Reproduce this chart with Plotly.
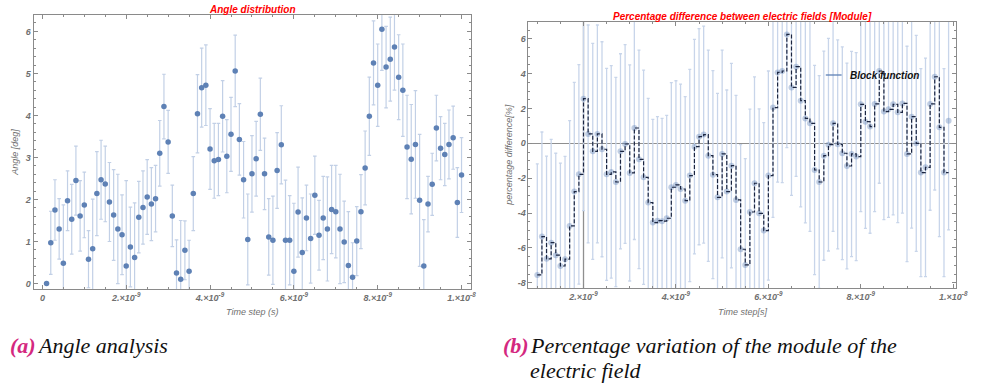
import plotly.graph_objects as go

# ---------------- data ----------------
# Left panel: angle distribution, time step index i -> t = i*1e-10 s
angle_steps = list(range(1, 101))
angle_deg = [0.00, 0.97, 1.75, 1.30, 0.48, 1.97, 1.53, 2.45, 1.61, 1.87,
             0.58, 0.83, 2.14, 2.47, 2.37, 1.94, 1.63, 1.30, 1.16, 0.42,
             0.87, 0.62, 1.58, 1.81, 2.06, 1.89, 2.02, 3.10, 4.21, 3.37,
             1.61, 0.25, 0.10, 0.79, 0.29, 2.14, 4.04, 4.66, 4.72, 3.20,
             2.92, 2.95, 3.98, 3.03, 3.55, 5.06, 3.43, 2.47, 1.05, 2.61,
             2.97, 4.03, 2.61, 1.11, 1.03, 2.69, 3.30, 1.03, 1.03, 0.29,
             1.70, 0.74, 1.56, 1.07, 2.10, 1.15, 1.56, 1.30, 1.76, 1.71,
             1.30, 0.99, 0.43, 0.15, 1.01, 1.71, 2.75, 3.98, 5.25, 4.72,
             6.05, 5.15, 5.34, 5.63, 4.91, 4.60, 3.25, 2.96, 3.31, 1.98,
             0.42, 1.89, 2.36, 3.70, 3.22, 3.07, 3.31, 3.47, 1.93, 2.58]
angle_err = [0.00, 0.75, 0.72, 0.72, 1.39, 0.71, 0.83, 0.82, 0.84, 0.78,
             0.68, 1.18, 1.00, 0.94, 0.90, 0.94, 1.08, 1.30, 0.95, 2.03,
             0.95, 1.30, 0.85, 0.87, 0.89, 0.87, 0.79, 0.78, 0.77, 0.75,
             0.73, 0.79, 1.40, 0.70, 0.74, 0.88, 0.93, 0.94, 0.96, 0.96,
             0.89, 0.86, 0.85, 0.87, 0.88, 0.85, 0.85, 0.91, 1.08, 0.91,
             0.89, 0.86, 0.85, 0.91, 1.05, 0.90, 0.93, 1.43, 1.06, 1.62,
             1.07, 1.30, 0.78, 1.06, 0.93, 0.83, 0.99, 1.24, 1.05, 1.10,
             1.30, 0.97, 1.28, 0.82, 0.82, 0.88, 0.88, 0.93, 1.00, 0.98,
             0.98, 0.97, 1.00, 1.03, 1.01, 1.10, 1.23, 1.30, 1.28, 1.57,
             1.10, 0.66, 0.74, 0.78, 0.75, 0.74, 0.82, 0.75, 0.83, 0.89]

# Right panel: percentage difference of field module, steps 10..99
pct_steps = list(range(10, 100))
pct_diff = [-7.55, -5.35, -6.63, -5.70, -6.42, -7.04, -6.65, -4.74, -2.77, -1.78,
            2.56, 0.54, -0.46, 0.54, -0.34, -1.78, -1.64, -2.22, -0.46, -0.04,
            -1.70, 0.88, -0.92, -1.95, -3.40, -4.55, -4.44, -4.47, -4.30, -2.52,
            -2.39, -2.62, -3.29, -1.85, -0.19, 0.38, 0.50, -0.71, -1.80, -3.10,
            -0.61, -2.77, -1.28, -3.25, -6.08, -6.98, -3.94, -2.29, -4.02, -5.01,
            -1.85, 2.05, 4.07, 4.15, 6.25, 3.21, 4.40, 2.45, 1.43, 1.15,
            -1.53, -2.22, -0.71, -0.08, 1.15, -0.06, -0.57, -1.30, -0.61, -0.76,
            2.24, 1.24, 0.96, 2.26, 4.15, 1.82, 1.95, 2.24, 1.78, 2.29,
            -0.61, 1.53, 0.00, -1.68, -1.38, 2.26, 3.82, 0.92, -1.68, 1.30]
pct_err = [6.37, 6.00, 5.90, 5.93, 5.85, 5.90, 5.90, 6.04, 6.27, 6.30,
           6.42, 6.25, 6.20, 6.25, 6.17, 6.08, 6.10, 6.00, 5.60, 5.70,
           6.20, 6.40, 6.27, 6.15, 5.98, 5.93, 5.97, 5.90, 5.90, 6.00,
           5.98, 6.02, 5.97, 6.09, 6.16, 6.20, 6.23, 6.06, 5.97, 5.97,
           5.96, 5.83, 5.87, 6.00, 6.00, 6.10, 5.90, 6.10, 6.00, 6.20,
           6.00, 6.30, 6.30, 6.40, 6.50, 6.20, 6.30, 6.10, 6.00, 6.20,
           6.00, 6.10, 6.00, 6.10, 6.20, 6.00, 6.10, 5.90, 5.89, 5.97,
           6.16, 6.12, 6.12, 6.18, 6.44, 6.20, 6.20, 6.35, 6.33, 6.30,
           6.18, 6.40, 6.20, 5.97, 6.27, 6.10, 6.50, 6.27, 5.97, 6.27]

STEP_SIZE = 1e-10
x_tick_vals = [0, 2e-9, 4e-9, 6e-9, 8e-9, 1e-8]
x_tick_text = ["0", "2.×10<sup>-9</sup>", "4.×10<sup>-9</sup>", "6.×10<sup>-9</sup>",
               "8.×10<sup>-9</sup>", "1.×10<sup>-8</sup>"]
y_tick_vals_left = [0, 1, 2, 3, 4, 5, 6]
y_tick_text_left = ["0", "1", "2", "3", "4", "5", "6"]
y_tick_vals_right = [-8, -6, -4, -2, 0, 2, 4, 6]
y_tick_text_right = ["-8", "-6", "-4", "-2", "0", "2", "4", "6"]
RIGHT_AXIS_ORIGIN_X = 2e-9

# ---------------- derived ----------------
t_left = [i * STEP_SIZE for i in angle_steps]
t_right = [j * STEP_SIZE for j in pct_steps]
# step ("block") function: each value held until the next time step
step_x = t_right
step_y = pct_diff[:-1] + [pct_diff[-2]]

W, H = 983, 387
BLUE = "#5e81b5"
FRAME = "#8a8a8a"
TICKFONT = dict(family="Liberation Sans, Arial, sans-serif", size=9, color="#707070",
                style="italic", weight="bold")

fig = go.Figure()

fig.add_trace(go.Scatter(
    x=t_left, y=angle_deg, mode="markers", xaxis="x", yaxis="y",
    marker=dict(color=BLUE, size=5.5),
    error_y=dict(type="data", array=angle_err, visible=True,
                 color="#c2d0e6", thickness=1.2, width=1.8),
    showlegend=False))

fig.add_trace(go.Scatter(
    x=t_right, y=pct_diff, mode="markers", xaxis="x2", yaxis="y2",
    marker=dict(color="rgba(94,129,181,0.38)", size=6),
    error_y=dict(type="data", array=pct_err, visible=True,
                 color="#c8d5ea", thickness=1.3, width=1.5),
    showlegend=False))

fig.add_trace(go.Scatter(
    x=step_x, y=step_y, mode="lines", xaxis="x2", yaxis="y2",
    line=dict(color="#1b2540", width=1.2, dash="4px,2px", shape="hv"),
    showlegend=False))

def px_x(p):
    return p / W

def px_y(p):
    return 1 - p / H

common_axis = dict(showline=True, mirror="allticks", linecolor=FRAME, linewidth=1,
                   ticks="inside", tickcolor=FRAME, ticklen=4, tickwidth=1,
                   showgrid=False, zeroline=False, tickfont=TICKFONT)

fig.update_layout(
    width=W, height=H, margin=dict(l=0, r=0, t=0, b=0),
    paper_bgcolor="white", plot_bgcolor="white",
    xaxis=dict(domain=[px_x(34), px_x(477)], range=[-0.21e-9, 10.23e-9],
               anchor="y", tickvals=x_tick_vals, ticktext=x_tick_text,
               minor=dict(dtick=0.5e-9, tick0=0, ticks="inside", ticklen=2,
                          tickcolor=FRAME), **common_axis),
    yaxis=dict(domain=[px_y(289), px_y(15)], range=[-0.13, 6.39], anchor="x",
               tickvals=y_tick_vals_left, ticktext=y_tick_text_left,
               minor=dict(dtick=0.2, tick0=0, ticks="inside", ticklen=2,
                          tickcolor=FRAME), **common_axis),
    xaxis2=dict(domain=[px_x(535), px_x(968)], range=[0.809e-9, 10.064e-9],
                anchor="y2", tickvals=x_tick_vals, ticktext=x_tick_text,
                minor=dict(dtick=0.5e-9, tick0=0, ticks="inside", ticklen=2,
                           tickcolor=FRAME), **common_axis),
    yaxis2=dict(domain=[px_y(288.3), px_y(21.7)], range=[-8.32, 6.98], anchor="x2",
                tickvals=y_tick_vals_right, ticktext=y_tick_text_right,
                minor=dict(dtick=0.5, tick0=0, ticks="inside", ticklen=2,
                           tickcolor=FRAME), **common_axis),
)
fig.layout.yaxis2.zeroline = True
fig.layout.yaxis2.zerolinecolor = "#8f8f8f"
fig.layout.yaxis2.zerolinewidth = 1.3

fig.add_shape(type="line", xref="x2", yref="y2 domain",
              x0=RIGHT_AXIS_ORIGIN_X, x1=RIGHT_AXIS_ORIGIN_X, y0=0, y1=1,
              line=dict(color="#8f8f8f", width=1.3), layer="below")

# legend sample
fig.add_shape(type="line", xref="paper", yref="paper",
              x0=px_x(836), x1=px_x(852), y0=px_y(75), y1=px_y(75),
              line=dict(color=BLUE, width=1.3))

title_font = dict(family="Liberation Sans, Arial, sans-serif", size=10, color="#ff0000",
                  style="italic", weight="bold")
axis_title_font = dict(family="Liberation Sans, Arial, sans-serif", size=9, color="#6f6f6f",
                       style="italic")
cap_font = dict(family="Liberation Serif, Times New Roman, serif", size=22, color="#111111",
                style="italic")
lab_font = dict(family="Liberation Serif, Times New Roman, serif", size=22, color="#d4287f",
                style="italic")

ann = [
    dict(text="Angle distribution", x=px_x(255.5), y=px_y(9), font=title_font),
    dict(text="Percentage difference between electric fields [Module]",
         x=px_x(751.5), y=px_y(16), font=title_font),
    dict(text="Angle [deg]", x=px_x(15), y=px_y(152), font=axis_title_font, textangle=-90),
    dict(text="Time step (s)", x=px_x(255.5), y=px_y(312), font=axis_title_font),
    dict(text="percentage difference[%]", x=px_x(515), y=px_y(155),
         font=axis_title_font, textangle=-90),
    dict(text="Time step[s]", x=px_x(751.5), y=px_y(312), font=axis_title_font),
    dict(text="Block function", x=px_x(858), y=px_y(75), xanchor="left",
         font=dict(family="Liberation Sans, Arial, sans-serif", size=10, color="#111111",
                   style="italic", weight="bold")),
    dict(text="<b>(a)</b>", x=px_x(8), y=px_y(345), xanchor="left", font=lab_font),
    dict(text="Angle analysis", x=px_x(35), y=px_y(345), xanchor="left", font=cap_font),
    dict(text="<b>(b)</b>", x=px_x(507), y=px_y(345), xanchor="left", font=lab_font),
    dict(text="Percentage variation of the module of the", x=px_x(535), y=px_y(345),
         xanchor="left", font=cap_font),
    dict(text="electric field", x=px_x(535), y=px_y(370), xanchor="left", font=cap_font),
]
for a in ann:
    a.setdefault("xanchor", "center")
    fig.add_annotation(xref="paper", yref="paper", showarrow=False, yanchor="middle", **a)

fig.write_html("out.html")
